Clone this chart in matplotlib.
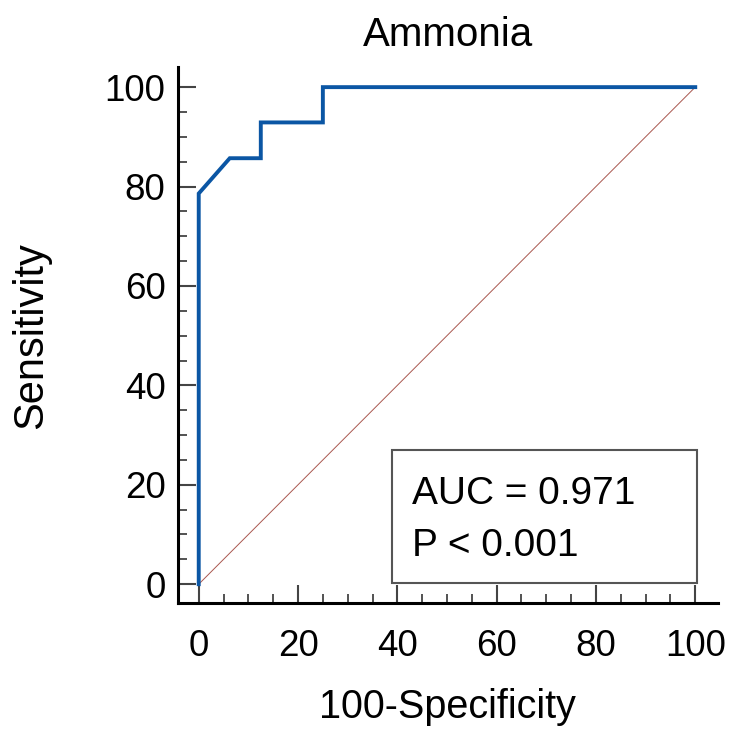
import matplotlib
matplotlib.use('Agg')
import matplotlib.pyplot as plt
from matplotlib.patches import Rectangle
from matplotlib.ticker import MultipleLocator

# --- DATA ---
title = 'Ammonia'
fpr = [0, 0, 6.25, 12.5, 12.5, 25, 25, 100]           # 100-Specificity
tpr = [0, 78.6, 85.7, 85.7, 92.9, 92.9, 100, 100]     # Sensitivity
auc_text = 'AUC = 0.971'
p_text = 'P < 0.001'
xticks = [0, 20, 40, 60, 80, 100]
yticks = [0, 20, 40, 60, 80, 100]

plt.rcParams['font.family'] = ['Liberation Sans', 'DejaVu Sans']

fig = plt.figure(figsize=(7.32, 7.31), dpi=100)
ax = fig.add_axes([0.243, 0.175, 0.738, 0.733])

# reference diagonal and ROC curve
ax.plot([0, 100], [0, 100], color='#a9574f', linewidth=0.7)
ax.plot(fpr, tpr, color='#0b56a4', linewidth=2.8, solid_joinstyle='miter')

ax.set_xlim(-4.2, 104.6)
ax.set_ylim(-3.8, 104)

# spines
for s in ['top', 'right']:
    ax.spines[s].set_visible(False)
for s in ['left', 'bottom']:
    ax.spines[s].set_linewidth(2.2)
    ax.spines[s].set_color('black')

ax.set_xticks(xticks)
ax.set_yticks(yticks)
ax.xaxis.set_minor_locator(MultipleLocator(5))
ax.yaxis.set_minor_locator(MultipleLocator(5))
ax.tick_params(which='major', direction='in', length=13, width=1.5,
               color='#444444', labelsize=26.5)
ax.tick_params(which='minor', direction='in', length=6.5, width=1.3,
               color='#444444')
ax.tick_params(axis='x', which='major', pad=19)
ax.tick_params(axis='y', which='major', pad=9)

ax.set_xlabel('100-Specificity', fontsize=28.5)
ax.set_ylabel('Sensitivity', fontsize=30)
ax.xaxis.set_label_coords(0.5, -0.159)
ax.yaxis.set_label_coords(-0.235, 0.5)
ax.set_title(title, fontsize=29, pad=15)

# AUC box
ax.add_patch(Rectangle((39, 0.2), 61.3, 26.8, fill=False,
                       edgecolor='#555555', linewidth=1.5))
ax.text(43, 18.2, auc_text, fontsize=28, va='center', ha='left')
ax.text(43, 7.6, p_text, fontsize=28, va='center', ha='left')

fig.savefig('out.png', dpi=100)
